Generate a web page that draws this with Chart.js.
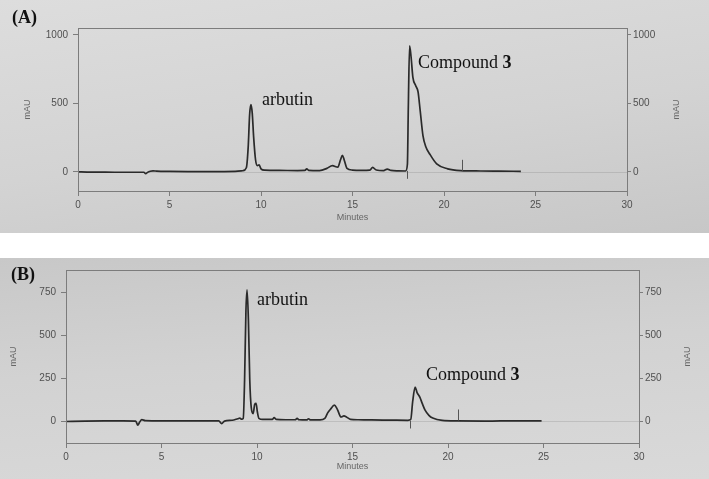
<!DOCTYPE html>
<html>
<head>
<meta charset="utf-8">
<script src="https://cdn.jsdelivr.net/npm/chart.js@4.4.1/dist/chart.umd.min.js"></script>
<style>
  html, body { margin: 0; padding: 0; background: #fff; }
  body { width: 709px; height: 479px; position: relative; overflow: hidden; }
  .panel { position: absolute; left: 0; width: 709px; }
  #panelA { top: 0; height: 233px; background: linear-gradient(172deg, #dddddd 0%, #d3d3d3 55%, #c7c7c7 100%); }
  #panelB { top: 258px; height: 221px; background: linear-gradient(176deg, #c8c8c8 0%, #d2d2d2 45%, #d9d9d9 100%); }
  canvas { display: block; }
</style>
</head>
<body>
<div class="panel" id="panelA"><canvas id="chartA" width="709" height="233"></canvas></div>
<div class="panel" id="panelB"><canvas id="chartB" width="709" height="221"></canvas></div>
<script>
// x axis (minutes) shared by both runs
const minuteTicks = [0, 5, 10, 15, 20, 25, 30];

// (A) chromatogram
const timeA = [0, 0.5, 1, 2, 3, 3.6, 3.7, 3.8, 3.95, 4.1, 4.3, 5, 6, 7, 8, 8.6, 9.0, 9.2, 9.3, 9.38, 9.45, 9.52, 9.6, 9.7, 9.8, 9.9, 10.0, 10.2, 11, 12, 12.4, 12.5, 12.6, 13.2, 13.6, 13.9, 14.2, 14.35, 14.45, 14.55, 14.7, 15.0, 15.5, 15.95, 16.1, 16.3, 16.7, 16.9, 17.1, 17.5, 17.9, 18.0, 18.05, 18.12, 18.2, 18.3, 18.45, 18.58, 18.7, 18.85, 19.0, 19.23, 19.6, 20.2, 20.9, 22, 23, 24.2];
const mauA  = [0, -2, -2, -3, -3, -3, -14, -4, 4, 7, 5, 3, 2, 2, 2, 3, 8, 30, 180, 420, 490, 430, 250, 90, 45, 50, 22, 12, 10, 9, 10, 22, 11, 9, 25, 45, 34, 90, 120, 85, 25, 13, 11, 13, 32, 13, 9, 20, 10, 7, 6, 55, 470, 920, 840, 690, 630, 585, 445, 265, 185, 128, 58, 22, 9, 6, 5, 4];
const ticksA = [0, 500, 1000];
const eventsA = [{ t: 18.0, up: false }, { t: 21.0, up: true }];

// (B) chromatogram
const timeB = [0, 1, 2, 3, 3.65, 3.76, 3.85, 3.97, 4.15, 5, 6, 7, 8.0, 8.15, 8.3, 8.7, 9.0, 9.1, 9.2, 9.28, 9.35, 9.42, 9.48, 9.55, 9.62, 9.7, 9.8, 9.88, 9.95, 10.02, 10.1, 10.3, 10.8, 10.9, 11.0, 11.5, 12.0, 12.1, 12.2, 12.6, 12.7, 12.8, 13.3, 13.55, 13.7, 13.85, 14.05, 14.2, 14.4, 14.55, 14.7, 14.9, 15.3, 16, 17, 17.9, 18.05, 18.15, 18.28, 18.38, 18.53, 18.65, 18.8, 19.0, 19.2, 19.7, 20.5, 22, 23.5, 24.9];
const mauB  = [0, 2, 3, 3, 2, -21, -5, 11, 5, 4, 4, 4, 4, -12, 2, 7, 16, 19, 13, 18, 240, 640, 765, 590, 245, 80, 46, 100, 105, 55, 18, 12, 12, 22, 12, 10, 10, 18, 10, 9, 16, 9, 9, 18, 50, 72, 95, 72, 26, 32, 25, 12, 10, 9, 8, 7, 12, 115, 200, 168, 140, 105, 66, 36, 20, 6, 3, 2, 4, 4];
const ticksB = [0, 250, 500, 750];
const eventsB = [{ t: 18.0, up: false }, { t: 20.5, up: true }];

const AXIS = '#7c7c7c';
const TICK_TXT = '#505050';
const SANS = '"Liberation Sans", Arial, sans-serif';
const SERIF = '"Liberation Serif", "Times New Roman", serif';

const decor = {
  id: 'decor',
  beforeDatasetsDraw(chart) {
    const { ctx, chartArea: a, scales } = chart;
    const y0 = Math.round(scales.y.getPixelForValue(0)) + 0.5;
    ctx.save();
    ctx.strokeStyle = 'rgba(90,90,90,0.18)';
    ctx.lineWidth = 1;
    ctx.beginPath();
    ctx.moveTo(a.left, y0);
    ctx.lineTo(a.right, y0);
    ctx.stroke();
    ctx.restore();
  },
  afterDraw(chart, args, o) {
    const { ctx, chartArea: a, scales } = chart;
    ctx.save();
    // frame
    ctx.strokeStyle = AXIS;
    ctx.lineWidth = 1;
    ctx.strokeRect(a.left + 0.5, a.top + 0.5, a.right - a.left, a.bottom - a.top);

    // event marks on the trace
    ctx.strokeStyle = '#555';
    const y0 = scales.y.getPixelForValue(0);
    o.events.forEach(e => {
      const px = Math.round(scales.x.getPixelForValue(e.t)) + 0.5;
      ctx.beginPath();
      ctx.moveTo(px, y0 - 1);
      ctx.lineTo(px, e.up ? y0 - 12 : y0 + 7);
      ctx.stroke();
    });

    // axis titles
    ctx.fillStyle = '#666';
    ctx.font = '9px ' + SANS;
    ctx.textAlign = 'center';
    ctx.textBaseline = 'middle';
    ctx.fillText('Minutes', (a.left + a.right) / 2, o.minutesY);
    const midY = (a.top + a.bottom) / 2;
    [o.mauLeftX, o.mauRightX].forEach(x => {
      ctx.save();
      ctx.translate(x, midY);
      ctx.rotate(-Math.PI / 2);
      ctx.fillText('mAU', 0, 0);
      ctx.restore();
    });

    // panel letter
    ctx.fillStyle = '#111';
    ctx.textAlign = 'left';
    ctx.font = 'bold 18px ' + SERIF;
    ctx.fillText(o.panel, o.panelX, o.panelY);

    // peak labels
    o.notes.forEach(n => {
      const px = scales.x.getPixelForValue(n.t);
      const py = scales.y.getPixelForValue(n.v);
      ctx.font = '18px ' + SERIF;
      ctx.fillText(n.text, px, py);
      if (n.bold) {
        const w = ctx.measureText(n.text).width;
        ctx.font = 'bold 18px ' + SERIF;
        ctx.fillText(n.bold, px + w, py);
      }
    });
    ctx.restore();
  }
};

function yAxis(pos, min, max, ticks, width, tickLen, pad) {
  return {
    type: 'linear',
    position: pos,
    min: min,
    max: max,
    afterBuildTicks: s => { s.ticks = ticks.map(v => ({ value: v })); },
    afterFit: s => { s.width = width; },
    grid: { drawOnChartArea: false, tickLength: tickLen, color: AXIS },
    border: { color: AXIS },
    ticks: { color: TICK_TXT, font: { family: SANS, size: 10 }, padding: pad, callback: v => String(v) }
  };
}

function makeChart(canvas, times, values, cfg) {
  return new Chart(canvas, {
    type: 'line',
    data: {
      datasets: [{
        data: times.map((t, i) => ({ x: t, y: values[i] })),
        borderColor: '#2a2a2a',
        borderWidth: 1.7,
        pointRadius: 0,
        fill: false,
        cubicInterpolationMode: 'monotone'
      }]
    },
    options: {
      responsive: false,
      animation: false,
      devicePixelRatio: 1,
      layout: { padding: { top: cfg.top, left: 0, right: 0, bottom: 0 } },
      plugins: {
        legend: { display: false },
        tooltip: { enabled: false },
        decor: cfg.decor
      },
      scales: {
        x: {
          type: 'linear',
          min: 0,
          max: 30,
          afterBuildTicks: s => { s.ticks = minuteTicks.map(v => ({ value: v })); },
          afterFit: s => { s.height = cfg.xHeight; },
          grid: { drawOnChartArea: false, tickLength: 5, color: AXIS },
          border: { color: AXIS },
          ticks: { color: TICK_TXT, font: { family: SANS, size: 10 }, padding: 3, maxRotation: 0, callback: v => String(v) }
        },
        y: yAxis('left', cfg.min, cfg.max, cfg.ticks, cfg.leftW, 5, 5),
        y2: yAxis('right', cfg.min, cfg.max, cfg.ticks, cfg.rightW, 4, 2)
      }
    },
    plugins: [decor]
  });
}

makeChart(document.getElementById('chartA'), timeA, mauA, {
  top: 28, xHeight: 42, leftW: 78, rightW: 82, min: -140, max: 1050, ticks: ticksA,
  decor: {
    panel: '(A)', panelX: 12, panelY: 18, minutesY: 218, mauLeftX: 28, mauRightX: 677,
    events: eventsA,
    notes: [
      { text: 'arbutin', t: 10.05, v: 520 },
      { text: 'Compound ', bold: '3', t: 18.58, v: 790 }
    ]
  }
});

makeChart(document.getElementById('chartB'), timeB, mauB, {
  top: 12, xHeight: 36, leftW: 66, rightW: 70, min: -125, max: 880, ticks: ticksB,
  decor: {
    panel: '(B)', panelX: 11, panelY: 17, minutesY: 209, mauLeftX: 14, mauRightX: 688,
    events: eventsB,
    notes: [
      { text: 'arbutin', t: 10.0, v: 705 },
      { text: 'Compound ', bold: '3', t: 18.85, v: 270 }
    ]
  }
});
</script>
</body>
</html>
